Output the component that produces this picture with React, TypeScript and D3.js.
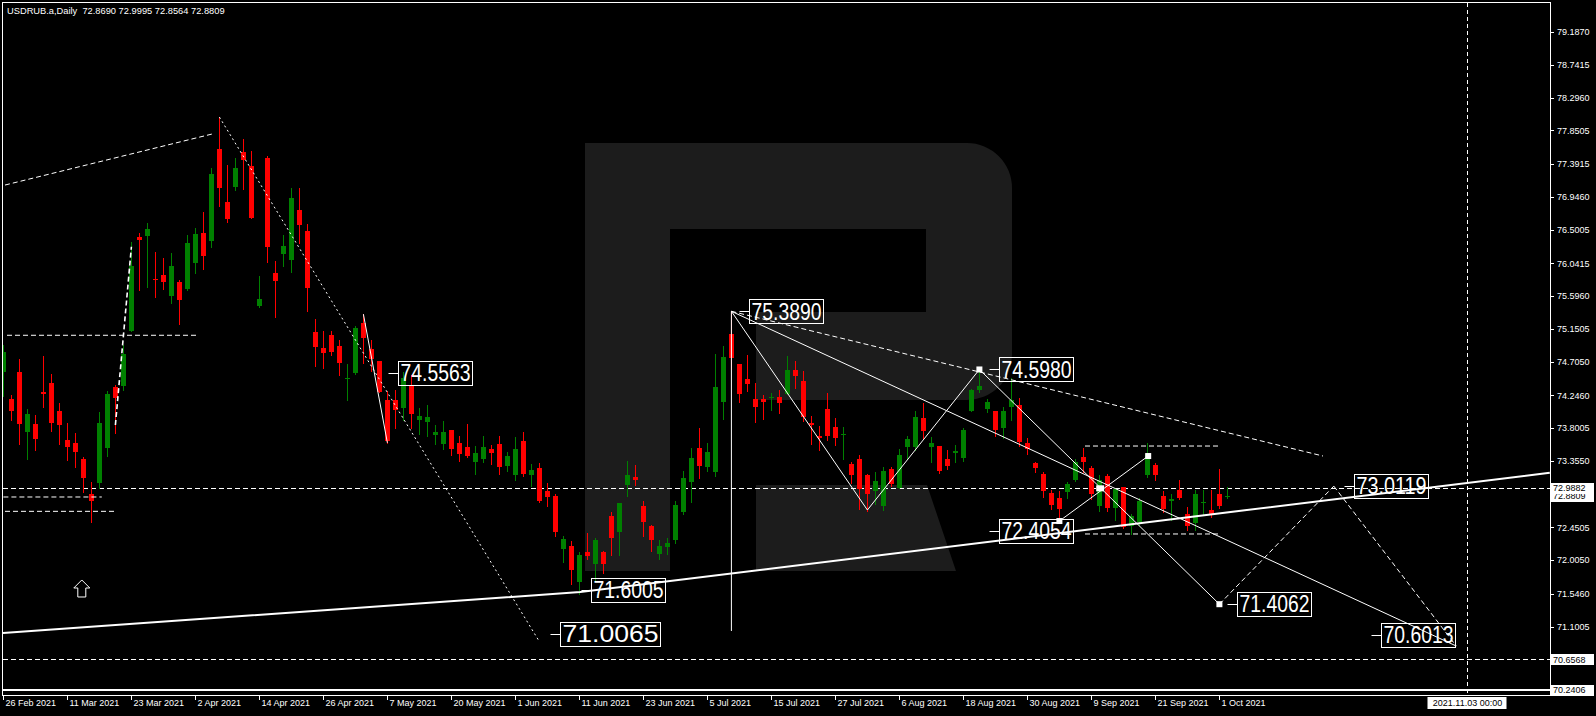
import { useEffect } from "react";
import { scaleLinear } from "d3";

const W = 1596;
const H = 716;

// daily candles, 26 Feb 2021 .. 4 Oct 2021 (bar index 0..153)
const opens = [
  74.56, 74.2, 74.56, 73.75, 73.86, 74.29, 74.41, 74.03, 73.64, 73.6,
  73.38, 72.9, 73.05, 73.53, 74.36, 74.37, 75.12, 76.4, 76.41, 75.83,
  75.88, 75.6, 75.79, 75.69, 76.04, 76.45, 76.34, 77.59, 76.87, 77.08,
  77.55, 77.36, 75.46, 77.47, 75.91, 76.17, 76.09, 76.77, 76.48, 75.11,
  74.89, 75.06, 74.92, 74.47, 74.55, 75.23, 74.87, 74.71, 74.18, 74.18,
  74.07, 74.37, 73.91, 73.88, 73.71, 73.58, 73.77, 73.6, 73.54, 73.34,
  73.38, 73.51, 73.58, 73.28, 73.16, 73.62, 73.16, 73.26, 72.94, 72.88,
  72.16, 72.2, 71.71, 72.11, 71.95, 72.11, 72.6, 72.39, 73.03, 73.13,
  72.74, 72.47, 72.09, 72.18, 72.28, 72.66, 73.07, 73.53, 73.27, 73.2,
  74.15, 75.08, 74.67, 74.47, 74.19, 74.19, 74.21, 74.23, 74.26, 74.59,
  74.44, 73.87, 73.69, 74.06, 73.81, 73.71, 73.31, 73.38, 73.16, 72.94,
  72.74, 73.24, 72.99, 73.54, 73.54, 73.94, 73.54, 73.56, 73.38, 73.46,
  73.39, 74.04, 74.32, 74.06, 74.03, 73.8, 74.09, 74.11, 73.6, 73.32,
  73.17, 72.92, 72.85, 72.93, 73.09, 73.41, 73.26, 72.74, 73.15, 72.71,
  73.0, 72.47, 72.52, 73.16, 73.3, 72.88, 72.81, 72.96, 72.63, 72.51,
  72.78, 72.69, 72.9, 72.869,
];
const highs = [
  74.93, 74.25, 74.74, 74.06, 73.98, 74.78, 74.54, 74.14, 73.87, 73.73,
  73.41, 73.07, 74.02, 74.3, 74.39, 74.93, 76.33, 76.45, 76.59, 76.19,
  76.11, 76.18, 75.81, 76.43, 76.52, 76.74, 77.34, 78.03, 77.38, 77.47,
  77.73, 77.57, 75.87, 77.5, 76.07, 76.43, 77.07, 77.07, 76.57, 75.28,
  75.12, 75.12, 75.0, 74.67, 75.19, 75.35, 75.0, 74.71, 74.3, 74.32,
  74.56, 74.52, 74.07, 74.11, 73.84, 73.9, 73.77, 73.69, 73.86, 73.56,
  73.7, 73.57, 73.7, 73.47, 73.68, 73.75, 73.31, 73.32, 73.05, 72.9,
  72.33, 72.27, 72.11, 72.37, 72.3, 72.13, 72.66, 72.78, 73.35, 73.3,
  72.81, 72.48, 72.28, 72.3, 72.81, 73.22, 73.53, 73.8, 73.6, 74.81,
  74.92, 75.389, 74.67, 74.79, 74.41, 74.25, 74.28, 74.32, 74.78, 74.71,
  74.58, 73.96, 73.83, 74.28, 73.94, 73.81, 73.34, 73.43, 73.17, 73.2,
  73.27, 73.27, 73.51, 73.69, 74.04, 74.14, 73.68, 73.56, 73.5, 73.57,
  73.8, 74.33, 74.598, 74.2, 74.04, 74.09, 74.48, 74.21, 73.66, 73.34,
  73.21, 72.96, 72.94, 73.07, 73.38, 73.53, 73.28, 73.16, 73.18, 72.98,
  73.0, 72.63, 72.85, 73.6, 73.32, 72.94, 72.9, 73.09, 72.73, 72.96,
  72.96, 72.96, 73.24, 72.9995,
];
const lows = [
  74.24, 73.91, 73.58, 73.38, 73.5, 74.09, 73.76, 73.58, 73.37, 73.27,
  72.93, 72.52, 72.98, 73.42, 73.73, 74.32, 75.12, 75.68, 75.72, 75.58,
  75.69, 75.5, 75.21, 75.68, 75.91, 75.97, 76.26, 76.82, 76.6, 77.04,
  77.05, 76.66, 75.45, 76.06, 75.31, 76.0, 75.92, 76.32, 75.39, 74.64,
  74.62, 74.79, 74.52, 74.18, 74.54, 74.68, 74.58, 74.29, 73.6, 73.8,
  73.91, 73.8, 73.72, 73.69, 73.58, 73.51, 73.43, 73.35, 73.41, 73.18,
  73.34, 73.31, 73.18, 73.22, 73.09, 73.15, 73.01, 72.79, 72.74, 72.33,
  71.98, 71.68, 71.54, 72.02, 71.73, 71.83, 72.07, 72.07, 72.88, 73.03,
  72.33, 72.13, 72.02, 72.09, 72.24, 72.63, 72.79, 73.12, 73.22, 73.15,
  73.92, 74.6, 74.15, 74.3, 73.88, 73.92, 74.05, 74.0, 74.26, 74.34,
  73.9, 73.58, 73.5, 73.64, 73.57, 73.38, 73.05, 72.7, 72.68, 72.77,
  72.69, 73.01, 72.99, 73.38, 73.5, 73.66, 73.34, 73.19, 73.24, 73.34,
  73.35, 74.03, 74.29, 74.02, 73.7, 73.66, 73.91, 73.56, 73.45, 73.2,
  72.87, 72.7, 72.55, 72.85, 73.08, 73.2, 72.84, 72.67, 72.67, 72.55,
  72.44, 72.36, 72.48, 73.13, 73.09, 72.66, 72.55, 72.84, 72.41, 72.41,
  72.63, 72.59, 72.71, 72.8564,
];
const closes = [
  74.84, 74.04, 73.86, 73.99, 73.65, 74.27, 73.87, 73.84, 73.54, 73.47,
  73.12, 72.81, 73.87, 74.26, 74.21, 74.81, 76.0, 76.36, 76.51, 75.82,
  75.79, 76.0, 75.54, 76.32, 76.44, 76.14, 77.26, 77.06, 76.64, 77.34,
  77.45, 76.66, 75.56, 76.26, 75.8, 76.28, 76.93, 76.56, 75.71, 74.9,
  74.82, 74.83, 74.69, 74.48, 75.16, 75.02, 74.74, 74.29, 73.62, 74.05,
  74.48, 73.99, 73.96, 73.95, 73.75, 73.75, 73.51, 73.45, 73.42, 73.46,
  73.54, 73.46, 73.27, 73.42, 73.51, 73.18, 73.23, 72.81, 72.86, 72.39,
  72.29, 71.87, 72.07, 72.06, 72.28, 71.95, 72.31, 72.78, 73.16, 73.09,
  72.52, 72.28, 72.2, 72.24, 72.75, 73.12, 73.39, 73.28, 73.47, 74.36,
  74.77, 74.75, 74.26, 74.4, 74.09, 74.15, 74.22, 74.14, 74.59, 74.51,
  73.95, 73.84, 73.66, 73.69, 73.66, 73.72, 73.16, 72.97, 72.9, 73.08,
  73.22, 73.04, 73.43, 73.65, 73.95, 73.76, 73.6, 73.22, 73.28, 73.49,
  73.77, 74.32, 74.38, 74.15, 73.77, 74.03, 74.18, 73.61, 73.52, 73.26,
  72.94, 72.75, 72.7, 73.04, 73.34, 73.34, 72.91, 73.09, 72.71, 72.97,
  72.45, 72.6, 72.81, 73.45, 73.16, 72.7, 72.84, 72.85, 72.47, 72.9,
  72.8, 72.62, 72.74, 72.8809,
];

const priceTicks = [
  79.187, 78.7415, 78.296, 77.8505, 77.3915, 76.946, 76.5005, 76.0415, 75.596, 75.1505,
  74.705, 74.246, 73.8005, 73.355, 72.9095, 72.4505, 72.005, 71.546, 71.1005, 70.655, 70.2095,
];
const dateTickIdx = [0, 8, 16, 24, 32, 40, 48, 56, 64, 72, 80, 88, 96, 104, 112, 120, 128, 136, 144, 152];
const dateTickLabels = [
  "26 Feb 2021", "11 Mar 2021", "23 Mar 2021", "2 Apr 2021", "14 Apr 2021", "26 Apr 2021",
  "7 May 2021", "20 May 2021", "1 Jun 2021", "11 Jun 2021", "23 Jun 2021", "5 Jul 2021",
  "15 Jul 2021", "27 Jul 2021", "6 Aug 2021", "18 Aug 2021", "30 Aug 2021", "9 Sep 2021",
  "21 Sep 2021", "1 Oct 2021",
];

// chart objects, in [bar index, price] terms
const solidLines = [
  [91, 75.389, 108, 72.687],
  [108, 72.687, 122, 74.598],
  [122, 74.598, 152, 71.4062],
  [91, 75.389, 181.6, 70.838],
  [132, 72.537, 143.1, 73.421],
  [91, 75.389, 91, 71.042],
  [45, 75.35, 48, 73.6],
];
const dashedLines = [
  [0.2, 77.106, 26.1, 77.8],
  [91, 75.389, 164.95, 73.421],
  [152, 71.4062, 166.3, 73.0119],
  [166.3, 73.0119, 181.6, 70.838],
  [0.45, 75.063, 24.1, 75.063],
  [0, 72.864, 12.3, 72.864],
  [0.2, 72.669, 14.1, 72.669],
  [135.2, 73.557, 152.1, 73.557],
  [135.2, 72.361, 152.1, 72.361],
];
const dottedLines = [[27, 78.03, 66.95, 70.906]];
const boldDashed = [[14, 73.843, 16, 76.267]];
const supportIdx = [-0.05, 72.1, 193.3];
const supportPrice = [71.015, 71.572, 73.194];
const hLevelsDashed = [72.9882, 70.6568];
const hLevelSolid = 70.2406;
const futureIdx = 183;
const futureLabel = "2021.11.03 00:00";
const markerIdx = [122, 137.1, 132, 143.1, 152];
const markerPrice = [74.598, 72.982, 72.537, 73.421, 71.4062];
const arrowIdx = [9.8];
const arrowPrice = [71.613];

const labelTexts = ["74.5563", "75.3890", "74.5980", "72.4054", "71.6005", "71.0065", "71.4062", "73.0119", "70.6013"];
const labelIdx = [49.36, 93.26, 124.4, 124.4, 73.4, 69.6, 154.2, 168.8, 172.2];
const labelPrice = [74.5563, 75.389, 74.598, 72.4054, 71.6005, 71.0, 71.4062, 73.0119, 70.99];

const axisBoxes = [72.8809, 72.9882, 70.6568, 70.2406];

const R_LOGO =
  "M585,143 H967 A45,45 0 0 1 1012,188 V355 A45,45 0 0 1 967,400 H756 V312 H926 V229 H670 V571 H585 Z " +
  "M756,485 H927 L956,571 H756 Z";

const FONT = '"Liberation Sans", Arial, sans-serif';

export default function App() {
  useEffect(() => {
    document.body.style.margin = "0";
    document.body.style.background = "#000";
    document.body.style.overflow = "hidden";
  }, []);

  const x = scaleLinear().domain([0, 193]).range([3.4, 1547.4]);
  const y = scaleLinear().domain([70.1715, 79.5813]).range([695, 3]);
  const cx = (i: number) => Math.floor(x(i)) + 0.5;
  const py = (p: number) => Math.round(y(p)) + 0.5;

  const seg = (s: number[]) => ({ x1: x(s[0]), y1: y(s[1]), x2: x(s[2]), y2: y(s[3]) });

  return (
    <svg width={W} height={H} style={{ display: "block", background: "#000" }} fontFamily={FONT}>
      <defs>
        <clipPath id="plot">
          <rect x={3} y={3} width={1547} height={692} />
        </clipPath>
      </defs>
      <rect width={W} height={H} fill="#000" />
      <path d={R_LOGO} fill="#1c1c1c" />

      <g clipPath="url(#plot)">
        {hLevelsDashed.map((p) => (
          <line key={p} x1={3} x2={1550} y1={py(p)} y2={py(p)} stroke="#fff" strokeDasharray="5,3" />
        ))}

        {/* candles */}
        <g shapeRendering="crispEdges">
          {opens.map((o, i) => {
            const c = closes[i];
            const up = c >= o;
            const col = up ? "#008000" : "#ff0000";
            const top = Math.round(y(Math.max(o, c)));
            const bot = Math.round(y(Math.min(o, c)));
            const xc = cx(i);
            return (
              <g key={i}>
                <line x1={xc} x2={xc} y1={Math.round(y(highs[i]))} y2={Math.round(y(lows[i])) + 1} stroke={col} />
                <rect x={xc - 2.5} y={top} width={5} height={Math.max(1, bot - top)} fill={col} />
              </g>
            );
          })}
        </g>

        <line x1={3} x2={1550} y1={y(hLevelSolid)} y2={y(hLevelSolid)} stroke="#fff" strokeWidth={2} />
        <polyline
          points={supportIdx.map((d, k) => `${x(d)},${y(supportPrice[k])}`).join(" ")}
          fill="none"
          stroke="#fff"
          strokeWidth={2}
        />
        {solidLines.map((s, k) => (
          <line key={k} {...seg(s)} stroke="#fff" strokeWidth={1} />
        ))}
        {dashedLines.map((s, k) => (
          <line key={k} {...seg(s)} stroke="#fff" strokeWidth={1} strokeDasharray="5,3" />
        ))}
        {dottedLines.map((s, k) => (
          <line key={k} {...seg(s)} stroke="#fff" strokeWidth={1} strokeDasharray="2,3" />
        ))}
        {boldDashed.map((s, k) => (
          <line key={k} {...seg(s)} stroke="#fff" strokeWidth={1.6} strokeDasharray="5,3" />
        ))}
        <line
          x1={cx(futureIdx)}
          x2={cx(futureIdx)}
          y1={3}
          y2={695}
          stroke="#fff"
          strokeDasharray="4,3"
        />

        {markerIdx.map((d, k) => (
          <rect
            key={k}
            x={x(d) - (k === 1 ? 4 : 3)}
            y={y(markerPrice[k]) - 3}
            width={k === 1 ? 8 : 6}
            height={6}
            fill="#fff"
          />
        ))}

        {arrowIdx.map((d, k) => {
          const ax = x(d);
          const ay = y(arrowPrice[k]);
          return (
            <path
              key={k}
              d={`M${ax},${ay - 9} L${ax + 8},${ay - 1} H${ax + 4} V${ay + 8} H${ax - 4} V${ay - 1} H${ax - 8} Z`}
              fill="none"
              stroke="#fff"
              strokeWidth={1}
            />
          );
        })}

        {labelTexts.map((t, k) => {
          const bx = Math.round(x(labelIdx[k])) + 0.5;
          const by = y(labelPrice[k]);
          const wide = t === "71.0065";
          const bw = wide ? 100 : 74;
          return (
            <g key={t}>
              <line x1={bx - 10} x2={bx} y1={Math.round(by) + 0.5} y2={Math.round(by) + 0.5} stroke="#fff" />
              <rect x={bx} y={Math.round(by - 12) + 0.5} width={bw} height={24} fill="none" stroke="#fff" />
              <text
                x={bx + 2}
                y={by + 8.3}
                fill="#fff"
                fontSize={23}
                textLength={bw - 4}
                lengthAdjust="spacingAndGlyphs"
              >
                {t}
              </text>
            </g>
          );
        })}
      </g>

      {/* frame */}
      <rect x={2.5} y={2.5} width={1548} height={693} fill="none" stroke="#fff" />

      {/* title */}
      <text x={7} y={14} fill="#fff" fontSize={9.3} style={{ whiteSpace: "pre" }}>
        {"USDRUB.a,Daily  72.8690 72.9995 72.8564 72.8809"}
      </text>

      {/* price axis */}
      {priceTicks.map((p) => (
        <g key={p}>
          <line x1={1550.5} x2={1554} y1={py(p)} y2={py(p)} stroke="#fff" />
          <text x={1557} y={y(p) + 3.3} fill="#fff" fontSize={9}>
            {p.toFixed(4)}
          </text>
        </g>
      ))}
      {axisBoxes.map((p) => (
        <g key={p}>
          <rect x={1551} y={Math.round(y(p)) - 5} width={43} height={11} fill="#fff" />
          <text x={1553} y={y(p) + 3.4} fill="#000" fontSize={9}>
            {p.toFixed(4)}
          </text>
        </g>
      ))}

      {/* time axis */}
      {dateTickIdx.map((d, k) => (
        <g key={d}>
          <line x1={cx(d)} x2={cx(d)} y1={695.5} y2={700} stroke="#fff" />
          <text x={cx(d) + 2} y={706} fill="#fff" fontSize={9}>
            {dateTickLabels[k]}
          </text>
        </g>
      ))}
      <rect x={cx(futureIdx) - 40} y={697} width={79} height={12} fill="#fff" />
      <text x={cx(futureIdx)} y={706} fill="#000" fontSize={9} textAnchor="middle">
        {futureLabel}
      </text>
    </svg>
  );
}
